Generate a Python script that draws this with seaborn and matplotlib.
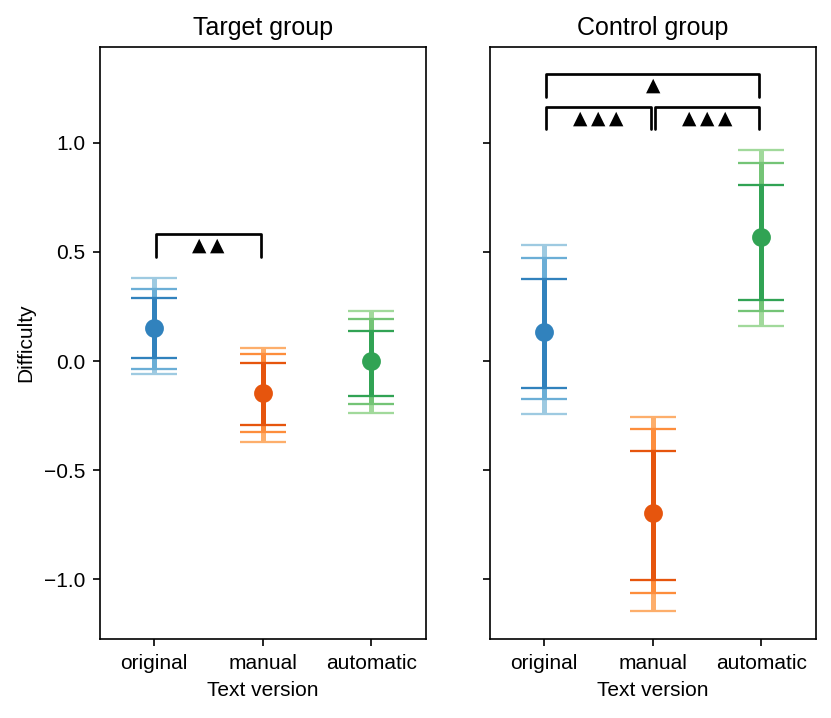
import numpy as np
import pandas as pd
import matplotlib
matplotlib.use("Agg")
import matplotlib.pyplot as plt
import seaborn as sns

# --- values ---
versions = ["original", "manual", "automatic"]
groups = ["Target group", "Control group"]

target_est = [0.15, -0.148, 0.0]
# (lower, upper) for three interval widths: inner, middle, outer
target_inner = [(0.012, 0.29), (-0.294, -0.011), (-0.16, 0.139)]
target_mid = [(-0.038, 0.33), (-0.327, 0.032), (-0.199, 0.191)]
target_outer = [(-0.06, 0.38), (-0.373, 0.061), (-0.24, 0.229)]

control_est = [0.134, -0.696, 0.567]
control_inner = [(-0.125, 0.376), (-1.003, -0.414), (0.28, 0.806)]
control_mid = [(-0.174, 0.471), (-1.064, -0.31), (0.229, 0.907)]
control_outer = [(-0.243, 0.532), (-1.147, -0.255), (0.162, 0.968)]

# significance brackets: (from, to, height, number of marks)
target_brackets = [(0, 1, 0.583, 2)]
control_brackets = [(0, 2, 1.317, 1), (0, 1, 1.167, 3), (1, 2, 1.167, 3)]

colors_inner = ["#3182bd", "#e6550d", "#31a354"]
colors_mid = ["#6baed6", "#fd8d3c", "#74c476"]
colors_outer = ["#9ecae1", "#fdae6b", "#a1d99b"]

sns.set_style("ticks")
plt.rcParams["font.family"] = ["Liberation Sans", "DejaVu Sans"]
plt.rcParams["axes.edgecolor"] = "black"
plt.rcParams["axes.labelcolor"] = "black"
plt.rcParams["text.color"] = "black"
plt.rcParams["xtick.color"] = "black"
plt.rcParams["ytick.color"] = "black"
plt.rcParams["font.size"] = 10


def draw_panel(ax, title, est, inner, mid, outer, brackets):
    df = pd.DataFrame({"Text version": versions, "Difficulty": est})
    sns.pointplot(data=df, x="Text version", y="Difficulty", hue="Text version",
                  order=versions, palette=colors_inner, errorbar=None,
                  linestyle="none", markersize=7, legend=False, ax=ax)
    for level, cols in ((outer, colors_outer), (mid, colors_mid), (inner, colors_inner)):
        for i, ((lo, hi), e) in enumerate(zip(level, est)):
            ax.errorbar(i, e, yerr=[[e - lo], [hi - e]], fmt="none", ecolor=cols[i],
                        elinewidth=2.4, capsize=11, capthick=1.1, zorder=1.5)
    dh = 0.105
    step = 0.165
    for a, b, h, n in brackets:
        x0, x1 = a + 0.02, b - 0.02
        ax.plot([x0, x0, x1, x1], [h - dh, h, h, h - dh], color="black", lw=1.3)
        mid_x = (a + b) / 2
        for k in range(n):
            ax.text(mid_x + (k - (n - 1) / 2) * step, h - dh / 2, "▲",
                    ha="center", va="center", fontsize=9, color="black",
                    family=["DejaVu Sans"])
    ax.set_title(title, fontsize=12)
    ax.set_xlim(-0.5, 2.5)
    for side in ["top", "right"]:
        ax.spines[side].set_visible(True)


fig, axes = plt.subplots(1, 2, figsize=(831 / 150, 718 / 150), dpi=150, sharey=True)
fig.subplots_adjust(left=0.1203, right=0.9816, bottom=0.110, top=0.9345, wspace=0.197)

draw_panel(axes[0], groups[0], target_est, target_inner, target_mid, target_outer, target_brackets)
draw_panel(axes[1], groups[1], control_est, control_inner, control_mid, control_outer, control_brackets)

axes[0].set_ylim(-1.275, 1.44)
axes[0].set_yticks([-1.0, -0.5, 0.0, 0.5, 1.0])
axes[0].set_ylabel("Difficulty")
axes[1].set_ylabel("")
axes[1].tick_params(labelleft=False)

fig.savefig("out.png", dpi=150)
